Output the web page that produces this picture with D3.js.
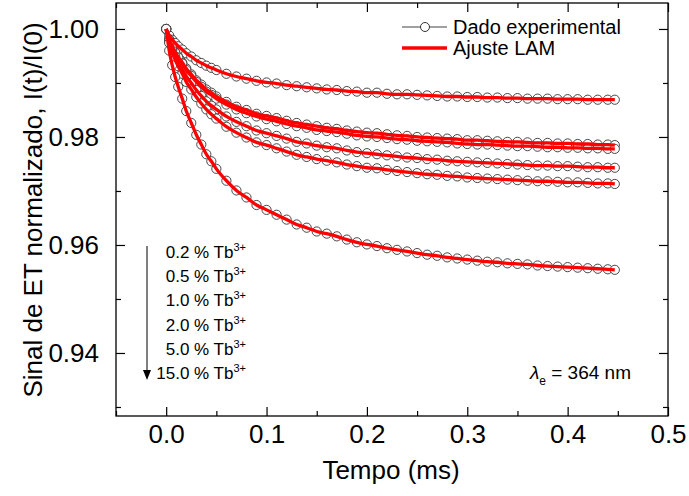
<!DOCTYPE html>
<html>
<head>
<meta charset="utf-8">
<script src="https://cdn.jsdelivr.net/npm/d3@7"></script>
<style>
  body { margin: 0; background: #fff; }
  svg { font-family: "Liberation Sans", Arial, sans-serif; }
</style>
</head>
<body>
<svg id="chart" width="689" height="496"></svg>
<script>
// tempo (ms)
var tempo = [0, 0.003, 0.006, 0.009, 0.012, 0.016, 0.02, 0.025, 0.03, 0.035, 0.04, 0.045,
  0.05, 0.06, 0.07, 0.08, 0.09, 0.10, 0.11, 0.12, 0.13, 0.14, 0.15, 0.16, 0.17, 0.18, 0.19, 0.20,
  0.21, 0.22, 0.23, 0.24, 0.25, 0.26, 0.27, 0.28, 0.29, 0.30, 0.31, 0.32, 0.33, 0.34, 0.35,
  0.36, 0.37, 0.38, 0.39, 0.40, 0.41, 0.42, 0.43, 0.44, 0.447]

// I(t)/I(0) para cada concentracao
var tb02 = [1.0000, 0.9988, 0.9980, 0.9974, 0.9968, 0.9962, 0.9955, 0.9949, 0.9942, 0.9937, 0.9932, 0.9928,
  0.9924, 0.9917, 0.9912, 0.9908, 0.9904, 0.9901, 0.9899, 0.9896, 0.9894, 0.9892, 0.9890, 0.9888, 0.9887, 0.9885, 0.9884, 0.9882,
  0.9882, 0.9880, 0.9879, 0.9879, 0.9878, 0.9877, 0.9876, 0.9875, 0.9875, 0.9874, 0.9874, 0.9873, 0.9873, 0.9872, 0.9872,
  0.9871, 0.9871, 0.9871, 0.9870, 0.9870, 0.9870, 0.9869, 0.9869, 0.9869, 0.9869]
var tb05 = [1.0000, 0.9981, 0.9968, 0.9957, 0.9948, 0.9938, 0.9927, 0.9916, 0.9905, 0.9897, 0.9888, 0.9882,
  0.9875, 0.9865, 0.9856, 0.9850, 0.9843, 0.9839, 0.9835, 0.9830, 0.9826, 0.9823, 0.9820, 0.9817, 0.9815, 0.9812, 0.9810, 0.9808,
  0.9807, 0.9805, 0.9803, 0.9802, 0.9800, 0.9799, 0.9798, 0.9797, 0.9796, 0.9794, 0.9794, 0.9793, 0.9792, 0.9791, 0.9791,
  0.9790, 0.9789, 0.9789, 0.9788, 0.9788, 0.9787, 0.9787, 0.9786, 0.9786, 0.9785]
var tb10 = [1.0000, 0.9980, 0.9967, 0.9956, 0.9947, 0.9936, 0.9924, 0.9913, 0.9902, 0.9893, 0.9884, 0.9878,
  0.9871, 0.9860, 0.9851, 0.9844, 0.9838, 0.9833, 0.9829, 0.9824, 0.9820, 0.9817, 0.9813, 0.9811, 0.9809, 0.9806, 0.9803, 0.9801,
  0.9800, 0.9798, 0.9796, 0.9795, 0.9793, 0.9792, 0.9791, 0.9790, 0.9788, 0.9787, 0.9786, 0.9786, 0.9785, 0.9784, 0.9783,
  0.9783, 0.9782, 0.9781, 0.9781, 0.9780, 0.9780, 0.9779, 0.9779, 0.9778, 0.9778]
var tb20 = [1.0000, 0.9977, 0.9961, 0.9949, 0.9938, 0.9925, 0.9912, 0.9900, 0.9887, 0.9876, 0.9866, 0.9858,
  0.9851, 0.9838, 0.9828, 0.9820, 0.9812, 0.9807, 0.9802, 0.9797, 0.9791, 0.9788, 0.9784, 0.9781, 0.9779, 0.9775, 0.9772, 0.9770,
  0.9768, 0.9766, 0.9764, 0.9762, 0.9761, 0.9759, 0.9758, 0.9756, 0.9755, 0.9754, 0.9753, 0.9752, 0.9751, 0.9750, 0.9749,
  0.9748, 0.9747, 0.9747, 0.9746, 0.9746, 0.9745, 0.9744, 0.9744, 0.9743, 0.9743]
var tb50 = [1.0000, 0.9974, 0.9957, 0.9943, 0.9931, 0.9917, 0.9902, 0.9888, 0.9874, 0.9862, 0.9851, 0.9842,
  0.9834, 0.9819, 0.9808, 0.9799, 0.9790, 0.9785, 0.9779, 0.9773, 0.9767, 0.9763, 0.9759, 0.9756, 0.9753, 0.9749, 0.9746, 0.9743,
  0.9742, 0.9739, 0.9737, 0.9735, 0.9733, 0.9731, 0.9730, 0.9728, 0.9727, 0.9725, 0.9724, 0.9723, 0.9722, 0.9721, 0.9720,
  0.9719, 0.9718, 0.9718, 0.9717, 0.9716, 0.9716, 0.9715, 0.9714, 0.9714, 0.9713]
var tb150 = [1.0000, 0.9960, 0.9933, 0.9911, 0.9893, 0.9871, 0.9848, 0.9826, 0.9804, 0.9786, 0.9768, 0.9755,
  0.9741, 0.9719, 0.9701, 0.9688, 0.9674, 0.9665, 0.9656, 0.9647, 0.9638, 0.9632, 0.9625, 0.9621, 0.9616, 0.9610, 0.9605, 0.9601,
  0.9598, 0.9594, 0.9591, 0.9588, 0.9585, 0.9582, 0.9580, 0.9577, 0.9575, 0.9573, 0.9571, 0.9569, 0.9568, 0.9566, 0.9565,
  0.9564, 0.9562, 0.9561, 0.9560, 0.9559, 0.9558, 0.9557, 0.9556, 0.9555, 0.9554]

var series = [tb02, tb05, tb10, tb20, tb50, tb150]
var concLabels = ["0.2", "0.5", "1.0", "2.0", "5.0", "15.0"]

var xMajor = [0.0, 0.1, 0.2, 0.3, 0.4, 0.5]
var xMinor = [-0.05, 0.05, 0.15, 0.25, 0.35, 0.45]
var yMajor = [0.94, 0.96, 0.98, 1.00]
var yMinor = [0.93, 0.95, 0.97, 0.99]

var svg = d3.select("#chart")
var plotLeft = 116, plotRight = 668, plotTop = 3, plotBottom = 416

var x = d3.scaleLinear().domain([-0.05, 0.5]).range([plotLeft, plotRight])
var y = d3.scaleLinear().domain([0.92833, 1.00481]).range([plotBottom, plotTop])

function styleAxis (g) {
	g.select(".domain").remove()
	g.selectAll("line").attr("stroke", "#000").attr("stroke-width", 1.2)
	g.selectAll("text").attr("fill", "#000").style("font-size", "26px")
	    .style("font-family", "'Liberation Sans', Arial, sans-serif")
}

// eixos com ticks para dentro
svg.append("g").attr("transform", "translate(0," + plotBottom + ")")
  .call(d3.axisBottom(x).tickValues(xMajor).tickSize(-9).tickPadding(9).tickFormat(d3.format(".1f")))
  .call(styleAxis)
svg.append("g").attr("transform", "translate(0," + plotBottom + ")")
  .call(d3.axisBottom(x).tickValues(xMinor).tickSize(-5).tickFormat(""))
  .call(styleAxis)
svg.append("g").attr("transform", "translate(0," + plotTop + ")")
  .call(d3.axisTop(x).tickValues(xMajor).tickSize(-9).tickFormat(""))
  .call(styleAxis)
svg.append("g").attr("transform", "translate(0," + plotTop + ")")
  .call(d3.axisTop(x).tickValues(xMinor).tickSize(-5).tickFormat(""))
  .call(styleAxis)
svg.append("g").attr("transform", "translate(" + plotLeft + ",0)")
  .call(d3.axisLeft(y).tickValues(yMajor).tickSize(-9).tickPadding(17).tickFormat(d3.format(".2f")))
  .call(styleAxis)
svg.append("g").attr("transform", "translate(" + plotLeft + ",0)")
  .call(d3.axisLeft(y).tickValues(yMinor).tickSize(-5).tickFormat(""))
  .call(styleAxis)
svg.append("g").attr("transform", "translate(" + plotRight + ",0)")
  .call(d3.axisRight(y).tickValues(yMajor).tickSize(-9).tickFormat(""))
  .call(styleAxis)
svg.append("g").attr("transform", "translate(" + plotRight + ",0)")
  .call(d3.axisRight(y).tickValues(yMinor).tickSize(-5).tickFormat(""))
  .call(styleAxis)

svg.append("rect")
  .attr("x", plotLeft).attr("y", plotTop)
  .attr("width", plotRight - plotLeft).attr("height", plotBottom - plotTop)
  .attr("fill", "none").attr("stroke", "#000").attr("stroke-width", 1.3)

// dados experimentais
var dataLine = d3.line().x((d, i)=>x(tempo[i])).y(d=>y(d))
var fitLine = d3.line().x((d, i)=>x(tempo[i])).y(d=>y(d)).curve(d3.curveMonotoneX)

var plot = svg.append("g")
series.forEach(s=>{
	plot.append("path").attr("d", dataLine(s))
	  .attr("fill", "none").attr("stroke", "#808080").attr("stroke-width", 1)
	plot.selectAll(null).data(s).enter().append("circle")
	  .attr("cx", (d, i)=>x(tempo[i]))
	  .attr("cy", d=>y(d))
	  .attr("r", 4.6)
	  .attr("fill", "#fff")
	  .attr("stroke", "#333")
	  .attr("stroke-width", 0.9)
})
// ajuste LAM
series.forEach(s=>{
	plot.append("path").attr("d", fitLine(s))
	  .attr("fill", "none").attr("stroke", "#ff0000").attr("stroke-width", 3.3)
})

// legenda
var leg = svg.append("g")
leg.append("line").attr("x1", 402).attr("x2", 447).attr("y1", 27).attr("y2", 27)
  .attr("stroke", "#808080").attr("stroke-width", 1.5)
leg.append("circle").attr("cx", 425).attr("cy", 27).attr("r", 4.5)
  .attr("fill", "#fff").attr("stroke", "#333").attr("stroke-width", 1)
leg.append("text").attr("x", 453).attr("y", 34).style("font-size", "20px").text("Dado experimental")
leg.append("line").attr("x1", 402).attr("x2", 447).attr("y1", 48).attr("y2", 48)
  .attr("stroke", "#ff0000").attr("stroke-width", 3.5)
leg.append("text").attr("x", 453).attr("y", 55).style("font-size", "20px").text("Ajuste LAM")

// concentracoes
var ann = svg.append("g")
concLabels.forEach((c, i)=>{
	var t = ann.append("text").attr("x", 246).attr("y", 258 + i * 24.2)
	  .attr("text-anchor", "end").style("font-size", "17px")
	t.append("tspan").text(c + " % Tb")
	t.append("tspan").attr("dy", -7).style("font-size", "11px").text("3+")
})
ann.append("line").attr("x1", 147).attr("x2", 147).attr("y1", 246).attr("y2", 371)
  .attr("stroke", "#000").attr("stroke-width", 1)
ann.append("path").attr("d", "M143,370 L151,370 L147,380 Z").attr("fill", "#000")

var lam = svg.append("text").attr("x", 631).attr("y", 379).attr("text-anchor", "end").style("font-size", "19px")
lam.append("tspan").style("font-style", "italic").text("λ")
lam.append("tspan").attr("dy", 6).style("font-size", "12px").text("e")
lam.append("tspan").attr("dy", -6).text(" = 364 nm")

// rotulos dos eixos
svg.append("text").attr("x", 391).attr("y", 479).attr("text-anchor", "middle")
  .style("font-size", "26px").text("Tempo (ms)")
svg.append("text").attr("transform", "rotate(-90)")
  .attr("x", -210).attr("y", 42).attr("text-anchor", "middle")
  .style("font-size", "26px").text("Sinal de ET normalizado, I(t)/I(0)")
</script>
</body>
</html>
